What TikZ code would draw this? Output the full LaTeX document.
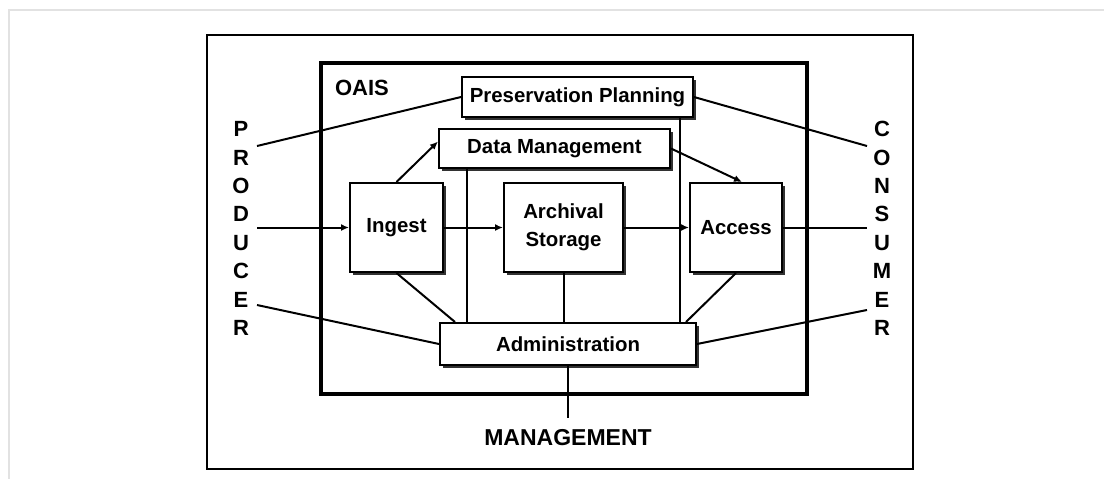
\documentclass[tikz,border=0pt]{standalone}
\usepackage{fontspec}
\setmainfont{Liberation Sans}
\usepackage{tikz}
\usetikzlibrary{arrows.meta,shadows}
\definecolor{pageframe}{RGB}{226,226,226}
\definecolor{shadowgrey}{RGB}{50,50,50}

\begin{document}
\begin{tikzpicture}[x=0.5pt, y=-0.5pt,
  funcbox/.style={draw, line width=1pt, fill=white, inner sep=0pt, align=center,
    font=\fontsize{10.2}{14}\selectfont\bfseries,
    drop shadow={shadow xshift=1.4pt, shadow yshift=-1.4pt, fill=shadowgrey, opacity=1}},
  link/.style={line width=1pt},
  flow/.style={line width=1pt, -{Latex[length=4pt, width=3.5pt]}},
  actor/.style={inner sep=0pt, align=center, font=\fontsize{11}{14.2}\selectfont\bfseries}]
\useasboundingbox (0,0) rectangle (1104,479);

% page frame
\draw[pageframe, line width=1pt] (9,479) -- (9,10) -- (1104,10);

% outer frame and OAIS box
\draw[line width=1.2pt] (207,35) rectangle (913,469);
\draw[line width=2pt] (321,63) rectangle (807,394);
\node[font=\fontsize{11}{13}\selectfont\bfseries] (oais) at (362,88) {OAIS};

% functional entities
\node[funcbox, minimum width=115.5pt, minimum height=20pt] (pp) at (577.5,97) {Preservation Planning};
\node[funcbox, minimum width=115.5pt, minimum height=19.5pt] (dm) at (554.5,148.5) {Data Management};
\node[funcbox, minimum width=46.5pt, minimum height=44.5pt] (ingest) at (396.5,227.5) {Ingest};
\node[funcbox, minimum width=59.5pt, minimum height=44.5pt] (archival) at (563.5,227.5) {Archival\\Storage};
\node[funcbox, minimum width=46pt, minimum height=44.5pt] (access) at (736,227.5) {Access};
\node[funcbox, minimum width=128pt, minimum height=21pt] (admin) at (568,344) {Administration};

% outside actors
\node[actor] (producer) at (241,228.5) {P\\R\\O\\D\\U\\C\\E\\R};
\node[actor] (consumer) at (882,228.5) {C\\O\\N\\S\\U\\M\\E\\R};
\node[font=\fontsize{11.5}{14}\selectfont\bfseries] (management) at (568,438) {MANAGEMENT};
\coordinate (prodtop) at (257,146);
\coordinate (prodmid) at (257,227.5);
\coordinate (prodlow) at (257,305);
\coordinate (constop) at (867,146);
\coordinate (consmid) at (867,227.5);
\coordinate (conslow) at (867,310);
\coordinate (mgmttop) at (568,418);

% flows
\draw[flow] (prodmid) -- (ingest.west);
\draw[flow] (ingest.east) -- (archival.west);
\draw[flow] (archival.east) -- (access.west);
\draw[flow] (ingest.north) -- ([yshift=3.5pt]dm.west);
\draw[flow] (dm.east) -- ([xshift=3pt]access.north);
\draw[link] (access.east) -- (consmid);

% links to producer, consumer, management
\draw[link] (prodtop) -- (pp.west);
\draw[link] (pp.east) -- (constop);
\draw[link] (prodlow) -- (admin.west);
\draw[link] (admin.east) -- (conslow);
\draw[link] (admin.south) -- (mgmttop);

% links to administration
\draw[link] ([xshift=14.5pt]dm.south west) -- ([xshift=14.5pt]dm.south west |- admin.north);
\draw[link] ([xshift=-7pt]pp.south east) -- ([xshift=-7pt]pp.south east |- admin.north);
\draw[link] (archival.south) -- (archival.south |- admin.north);
\draw[link] (ingest.south) -- ([xshift=8pt]admin.north west);
\draw[link] (access.south) -- ([xshift=-5.5pt]admin.north east);
\end{tikzpicture}
\end{document}
